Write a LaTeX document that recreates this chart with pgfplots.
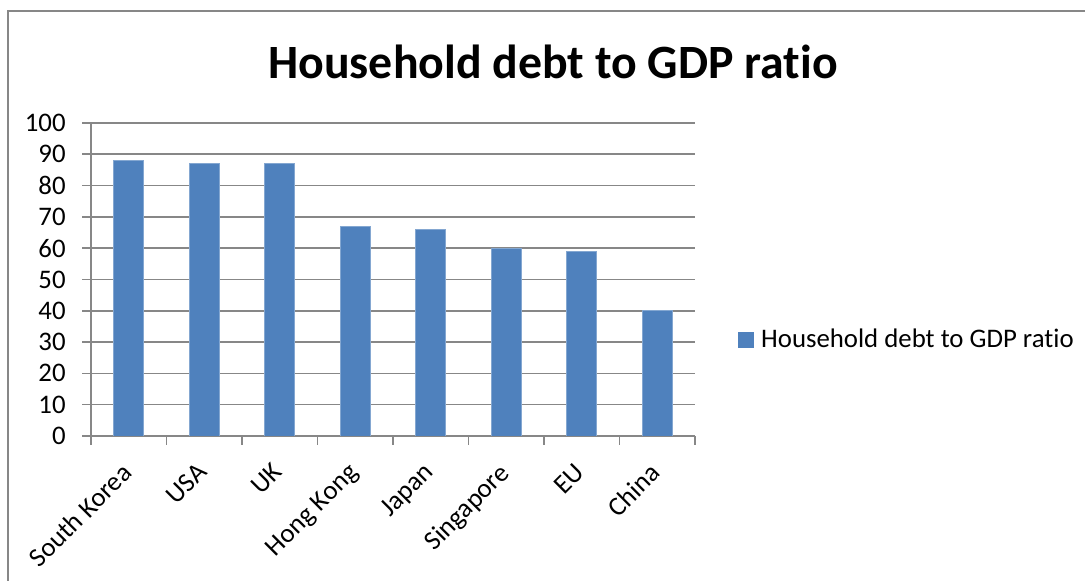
\documentclass[border=0pt]{standalone}
\usepackage{fontspec}
\setmainfont{Carlito}[Ligatures={NoCommon}]
\usepackage{pgfplots}
\pgfplotsset{compat=1.18}
\definecolor{barblue}{HTML}{4F81BD}
\definecolor{axgray}{HTML}{878787}
\begin{document}
\begin{tikzpicture}
\useasboundingbox (0,0) rectangle (542.5pt,290.5pt);
\draw[axgray, line width=0.8pt] (4pt,-2pt) -- (4pt,285pt) -- (545pt,285pt);
\node[font=\fontsize{23.9}{27}\selectfont\bfseries] at (276.5pt,259.5pt) {Household debt to GDP ratio};
\begin{axis}[
  at={(45.5pt,72.5pt)}, anchor=south west,
  scale only axis, width=302pt, height=156.5pt,
  xmin=-0.5, xmax=7.5, ymin=0, ymax=100,
  ytick={0,10,...,100},
  xtick={0,...,7},
  xticklabels={South Korea,USA,UK,Hong Kong,Japan,Singapore,EU,China},
  minor xtick={-0.5,0.5,...,7.5},
  major x tick style={draw=none},
  tick align=outside,
  major tick length=4.5pt, minor tick length=4.5pt,
  tick style={axgray, line width=0.8pt},
  axis x line*=bottom, axis y line*=left,
  axis line style={axgray, line width=0.8pt, -},
  ymajorgrids, grid style={axgray, line width=0.8pt},
  every tick label/.append style={font=\fontsize{13.4}{15}\selectfont},
  /pgf/number format/assume math mode=true,
  yticklabel style={inner sep=0pt, xshift=-8pt},
  xticklabel style={rotate=45, anchor=north east, inner sep=0pt, xshift=-8.7pt, yshift=-2.7pt},
  legend style={at={(1.0712,0.3067)}, anchor=west, draw=none, fill=none, inner sep=0pt,
    font=\fontsize{13.4}{15}\selectfont, nodes={inner sep=0pt}},
  legend image code/.code={\fill[barblue] (0pt,-3.75pt) rectangle (7.5pt,3.75pt);},
  /tikz/every odd column/.append style={column sep=3.5pt},
]
\addplot[ybar, bar width=15pt, fill=barblue, draw=barblue!70!white, line width=0.4pt]
  coordinates {(0,88) (1,87) (2,87) (3,67) (4,66) (5,60) (6,59) (7,40)};
\addlegendentry{Household debt to GDP ratio}
\end{axis}
\end{tikzpicture}
\end{document}
